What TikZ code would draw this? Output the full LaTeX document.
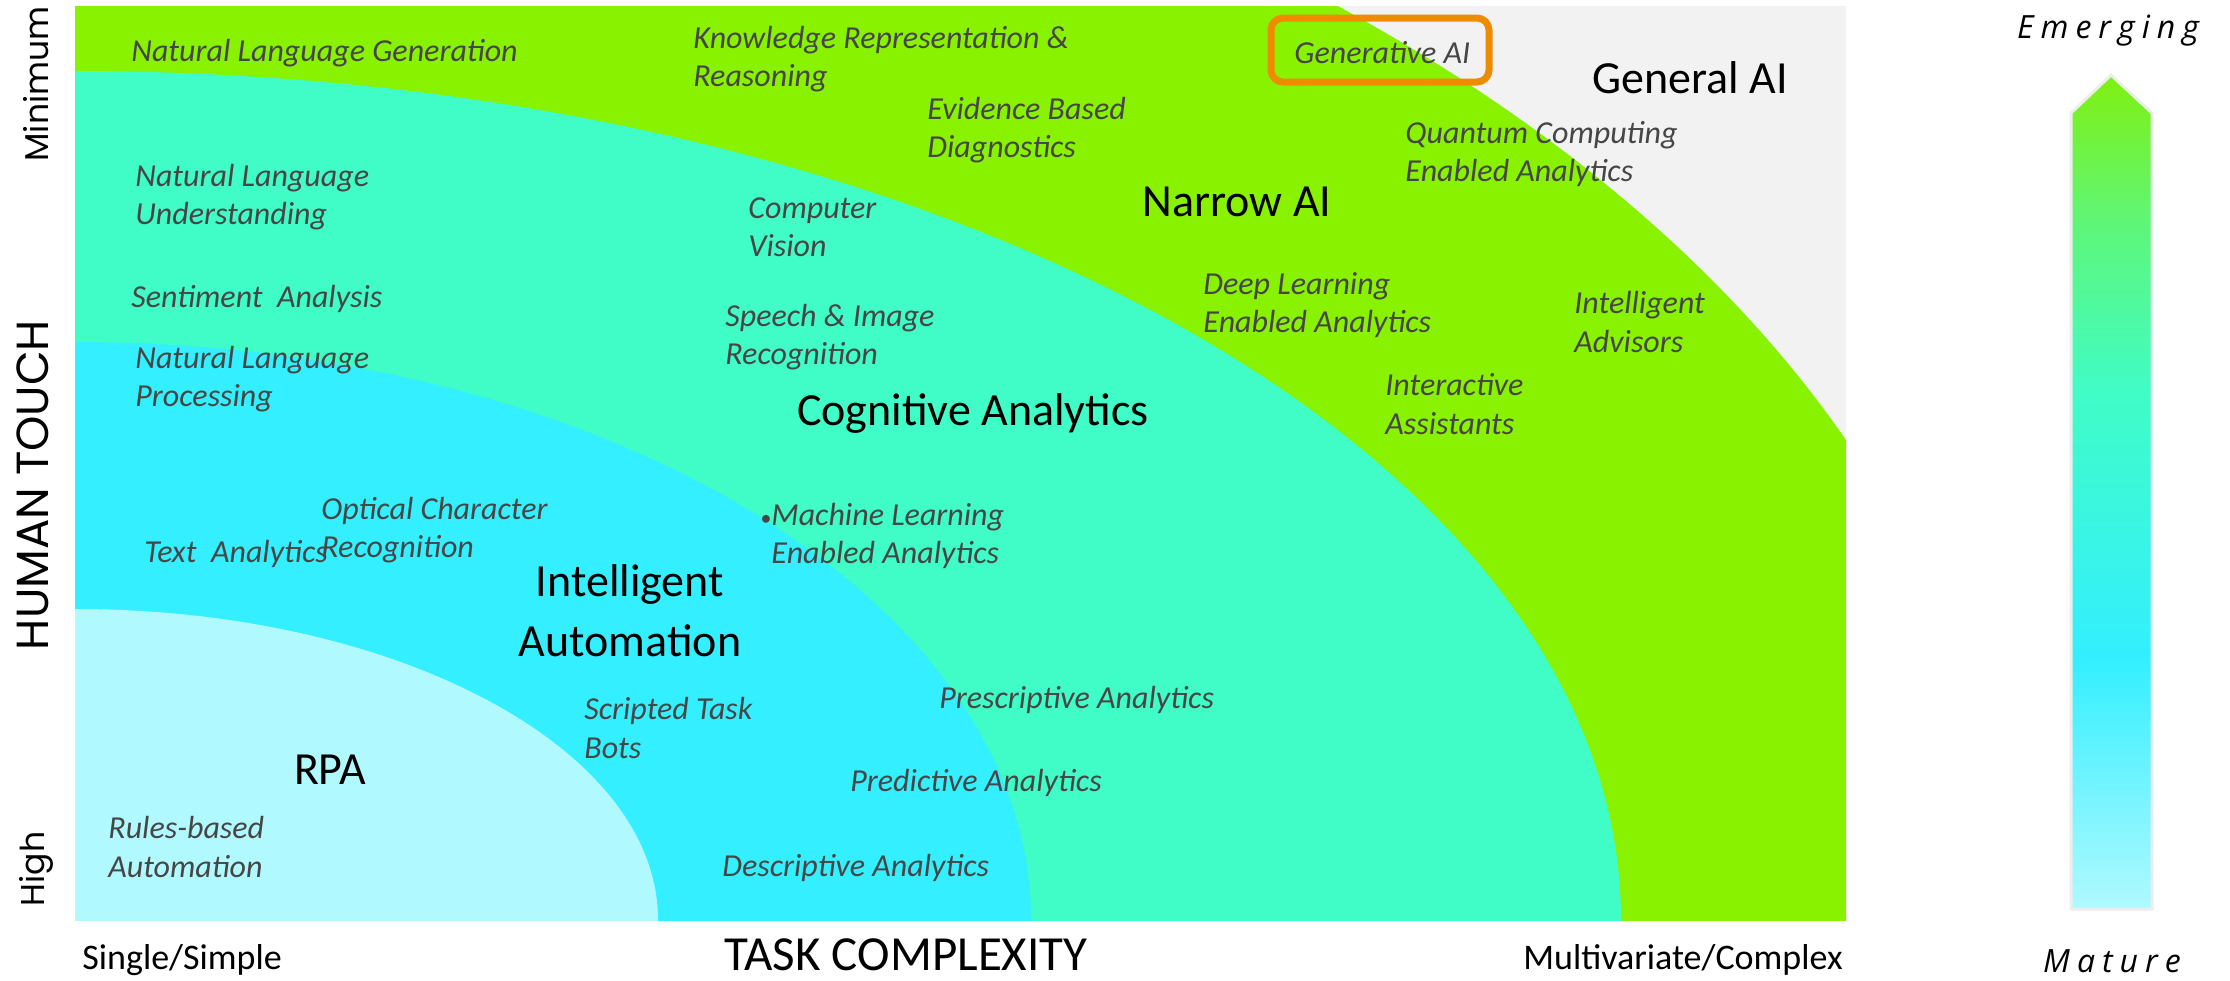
\documentclass[tikz,border=0pt]{standalone}
\usepackage{fontspec}
\setmainfont{Carlito}
\newfontfamily\geofont{Poppins}
\newfontfamily\spacedfont[LetterSpace=22]{Open Sans}

\definecolor{narrowgreen}{HTML}{88F200}
\definecolor{cogteal}{HTML}{40FCC6}
\definecolor{iacyan}{HTML}{33EFFF}
\definecolor{rpacyan}{HTML}{B0F9FF}
\definecolor{generalgray}{HTML}{F2F2F2}
\definecolor{genorange}{HTML}{EE8C00}
\definecolor{labelgray}{HTML}{464646}
\definecolor{arrowtop}{HTML}{80F010}
\definecolor{arrowmid}{HTML}{5EF67A}
\definecolor{arrowedge}{HTML}{EDEDED}

% maturity scale: light cyan at the bottom up to lime green at the tip
\pgfdeclareverticalshading{maturity}{100bp}{%
  color(0bp)=(rpacyan); color(25bp)=(rpacyan); color(40bp)=(iacyan);
  color(56bp)=(cogteal); color(66bp)=(arrowmid); color(75bp)=(arrowtop);
  color(100bp)=(arrowtop)}

\begin{document}
\begin{tikzpicture}[x=0.5pt,y=-0.5pt,
  lab/.style={font=\fontsize{16}{19.2}\selectfont\itshape, text=labelgray,
              inner sep=0pt, align=left, anchor=west},
  zone/.style={font=\fontsize{23}{30}\selectfont, text=black,
               inner sep=0pt, align=center},
  axislab/.style={font=\fontsize{18}{22}\selectfont, text=black, inner sep=0pt},
  touchlab/.style={font=\geofont\fontsize{16.5}{20}\selectfont, text=black,
                   inner sep=0pt, rotate=90},
  scalelab/.style={font=\spacedfont\itshape\fontsize{16}{19}\selectfont,
                   text=black, inner sep=0pt}]
\useasboundingbox (0,0) rectangle (2230,980);

% nested zones, all centred on the lower-left corner of the plot
\begin{scope}
  \clip (75,6) rectangle (1846,920);
  \fill[generalgray] (75,6) rectangle (1846,920);
  \fill[narrowgreen] (75,920) ellipse [x radius=1929, y radius=1209];
  \fill[cogteal]     (75,920) ellipse [x radius=1546, y radius=849];
  \fill[iacyan]      (75,920) ellipse [x radius=956,  y radius=578];
  \fill[rpacyan]     (75,920) ellipse [x radius=583,  y radius=311];
\end{scope}

% highlight around Generative AI
\draw[genorange, line width=3.5pt, rounded corners=6pt]
  (1271,18) rectangle (1489,82);

% zone titles
\node[zone] (narrow)    at (1237,202) {Narrow AI};
\node[zone] (general)   at (1690,78)  {General AI};
\node[zone] (cognitive) at (973,413)  {Cognitive Analytics};
\node[zone] (intauto)   at (630,611)  {Intelligent\\Automation};
\node[zone] (rpa)       at (330,770)  {RPA};

% technologies
\node[lab] (nlg)       at (131,53)  {Natural Language Generation};
\node[lab] (krr)       at (693,59)  {Knowledge Representation \&\\Reasoning};
\node[lab] (ebd)       at (927,130) {Evidence Based\\Diagnostics};
\node[lab] (genai)     at (1294,53) {Generative AI};
\node[lab] (quantum)   at (1405,154){Quantum Computing\\Enabled Analytics};
\node[lab] (nlu)       at (135,197) {Natural Language\\Understanding};
\node[lab] (vision)    at (748,227) {Computer\\Vision};
\node[lab] (sentiment) at (131,299) {Sentiment\ \ Analysis};
\node[lab] (speech)    at (725,337) {Speech \& Image\\Recognition};
\node[lab] (deep)      at (1203,305){Deep Learning\\Enabled Analytics};
\node[lab] (advisors)  at (1574,322){Intelligent\\Advisors};
\node[lab] (nlp)       at (135,379) {Natural Language\\Processing};
\node[lab] (assist)    at (1385,404){Interactive\\Assistants};
\node[lab] (ocr)       at (321,530) {Optical Character\\Recognition};
\node[lab] (text)      at (144,554) {Text\ \ Analytics};
\node[lab] (ml)        at (771,536) {\llap{\fontsize{11}{12}\selectfont•}Machine Learning\\Enabled Analytics};
\node[lab] (bots)      at (584,728) {Scripted Task\\Bots};
\node[lab] (prescr)    at (939,700) {Prescriptive Analytics};
\node[lab] (predict)   at (850,783) {Predictive Analytics};
\node[lab] (rules)     at (108,847) {Rules-based\\Automation};
\node[lab] (descr)     at (722,868) {Descriptive Analytics};

% axes
\node[axislab, anchor=west] (simple)  at (82,960)   {Single/Simple};
\node[font=\fontsize{24.5}{28}\selectfont, inner sep=0pt] (taskc) at (906,955) {TASK COMPLEXITY};
\node[axislab, anchor=east] (complex) at (1843,960) {Multivariate/Complex};
\node[touchlab] (minimum) at (36,84)  {Minimum};
\node[touchlab, font=\geofont\fontsize{22.5}{26}\selectfont] (touch) at (33,485) {HUMAN TOUCH};
\node[touchlab] (high)    at (36,869) {High};

% maturity arrow
\shade[shading=maturity, draw=arrowedge, line width=1.5pt]
  (2071,909) -- (2071,113) -- (2111,75) -- (2152,113) -- (2152,909) -- cycle;
\node[scalelab] (emerging) at (2108,31)  {Emerging};
\node[scalelab] (mature)   at (2112,961) {Mature};
\end{tikzpicture}
\end{document}
